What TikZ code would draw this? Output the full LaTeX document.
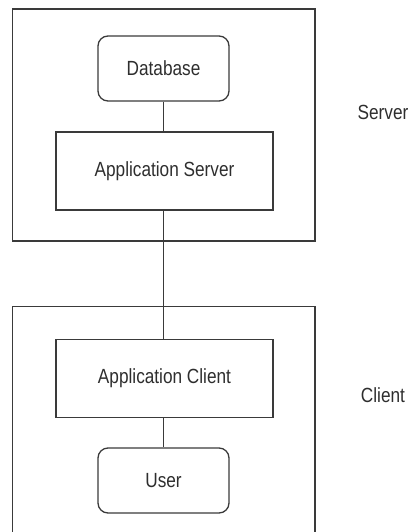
\documentclass[tikz,border=0pt]{standalone}
\usepackage{fontspec}
\setmainfont[FakeStretch=0.84]{Liberation Sans}
\definecolor{linec}{HTML}{3A3A3A}
\definecolor{textc}{HTML}{2E2E2E}
\begin{document}
\begin{tikzpicture}[x=1pt,y=-1pt,
  every node/.style={font=\fontsize{20.5}{24}\selectfont, text=textc},
  boxed/.style={draw=linec, line width=1.3pt, inner sep=0pt, minimum width=217pt, minimum height=78pt},
  roundbox/.style={draw=linec, line width=1.3pt, rounded corners=10pt, inner sep=0pt, minimum width=131pt, minimum height=65pt},
  frame/.style={draw=linec, line width=1.3pt, inner sep=0pt, minimum width=302.3pt},
  link/.style={draw=linec, line width=1.3pt},
  lbl/.style={inner sep=0pt}
]
\path[use as bounding box, clip] (0,0) rectangle (412,532);
\node[frame, minimum height=232pt] (srv) at (163.85,125) {};
\node[frame, minimum height=240pt] (cli) at (163.85,426.7) {};
\node[roundbox] (db) at (163.5,68.5) {Database};
\node[boxed] (as) at (164.5,171) {Application Server};
\node[boxed] (ac) at (164.5,378.5) {Application Client};
\node[roundbox] (usr) at (163.5,480.5) {User};
\node[lbl] (sl) at (383,112) {Server};
\node[lbl] (cl) at (383,395.5) {Client};
\draw[link] (db.south) -- (db.south |- as.north);
\draw[link] (db.south |- as.south) -- (db.south |- ac.north);
\draw[link] (db.south |- ac.south) -- (usr.north);
\end{tikzpicture}
\end{document}
